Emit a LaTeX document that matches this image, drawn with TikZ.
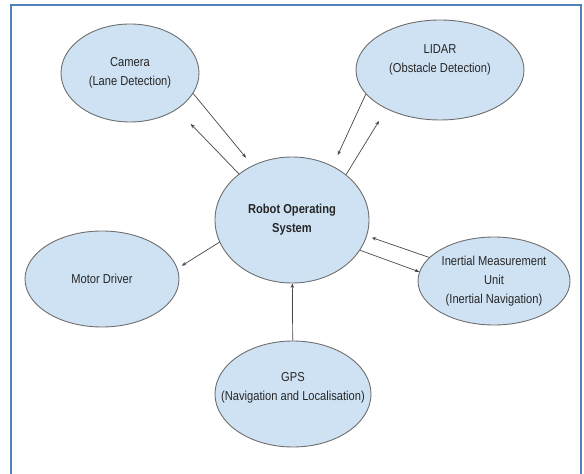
\documentclass[tikz,border=0pt]{standalone}
\usepackage{fontspec}
\setmainfont{Liberation Sans}[FakeStretch=0.86]
\usetikzlibrary{shapes.geometric,arrows.meta}
\definecolor{bubblefill}{RGB}{207,226,243}
\definecolor{bubbleline}{RGB}{110,110,110}
\definecolor{frameblue}{RGB}{79,129,189}
\definecolor{arrowgray}{RGB}{70,70,70}

\begin{document}
\begin{tikzpicture}[
  x=1bp, y=-1bp,
  bubble/.style={ellipse,draw=bubbleline,fill=bubblefill,line width=0.9bp,inner sep=0pt},
  txt/.style={align=center,font=\fontsize{13}{19}\selectfont,text=black!85},
  link/.style={->,draw=arrowgray,line width=0.7bp},
  >={Stealth[length=4.5bp,width=3.5bp]}
]
  \useasboundingbox (0,0) rectangle (584,474);
  % outer frame, open at the bottom
  \draw[frameblue,line width=1.6bp] (11,490) -- (11,5) -- (581,5) -- (581,490);

  \node[bubble,minimum width=138bp,minimum height=98bp,
        label={[txt]center:Camera\\(Lane Detection)}] (cam) at (130,73) {};
  \node[bubble,minimum width=168bp,minimum height=100bp,
        label={[txt,yshift=10bp]center:LIDAR\\(Obstacle Detection)}] (lidar) at (440,70) {};
  \node[bubble,minimum width=154bp,minimum height=126bp,
        label={[txt,font=\fontsize{13}{19}\selectfont\bfseries]center:Robot Operating\\System}] (ros) at (292,220) {};
  \node[bubble,minimum width=154bp,minimum height=96bp,
        label={[txt]center:Motor Driver}] (mot) at (102,279) {};
  \node[bubble,minimum width=152bp,minimum height=88bp,
        label={[txt]center:Inertial Measurement\\Unit\\(Inertial Navigation)}] (imu) at (494,281) {};
  \node[bubble,minimum width=156bp,minimum height=106bp,
        label={[txt,yshift=6bp]center:GPS\\(Navigation and Localisation)}] (gps) at (293,394) {};

  \draw[link,shorten >=10bp] (cam.-18) -- (ros.126);
  \draw[link,shorten >=20bp] (ros.139) -- (cam.-38);
  \draw[link,shorten >=12bp] (lidar.198) -- (ros.53);
  \draw[link,shorten >=14bp] (ros.40) -- (lidar.216);
  \draw[link,shorten >=5bp] (imu.160) -- (ros.-12);
  \draw[link] (ros.-24) -- (imu.173);
  \draw[link,shorten >=5bp] (ros.197) -- (mot.8.5);
  \draw[link] (gps) -- (ros);
\end{tikzpicture}
\end{document}
